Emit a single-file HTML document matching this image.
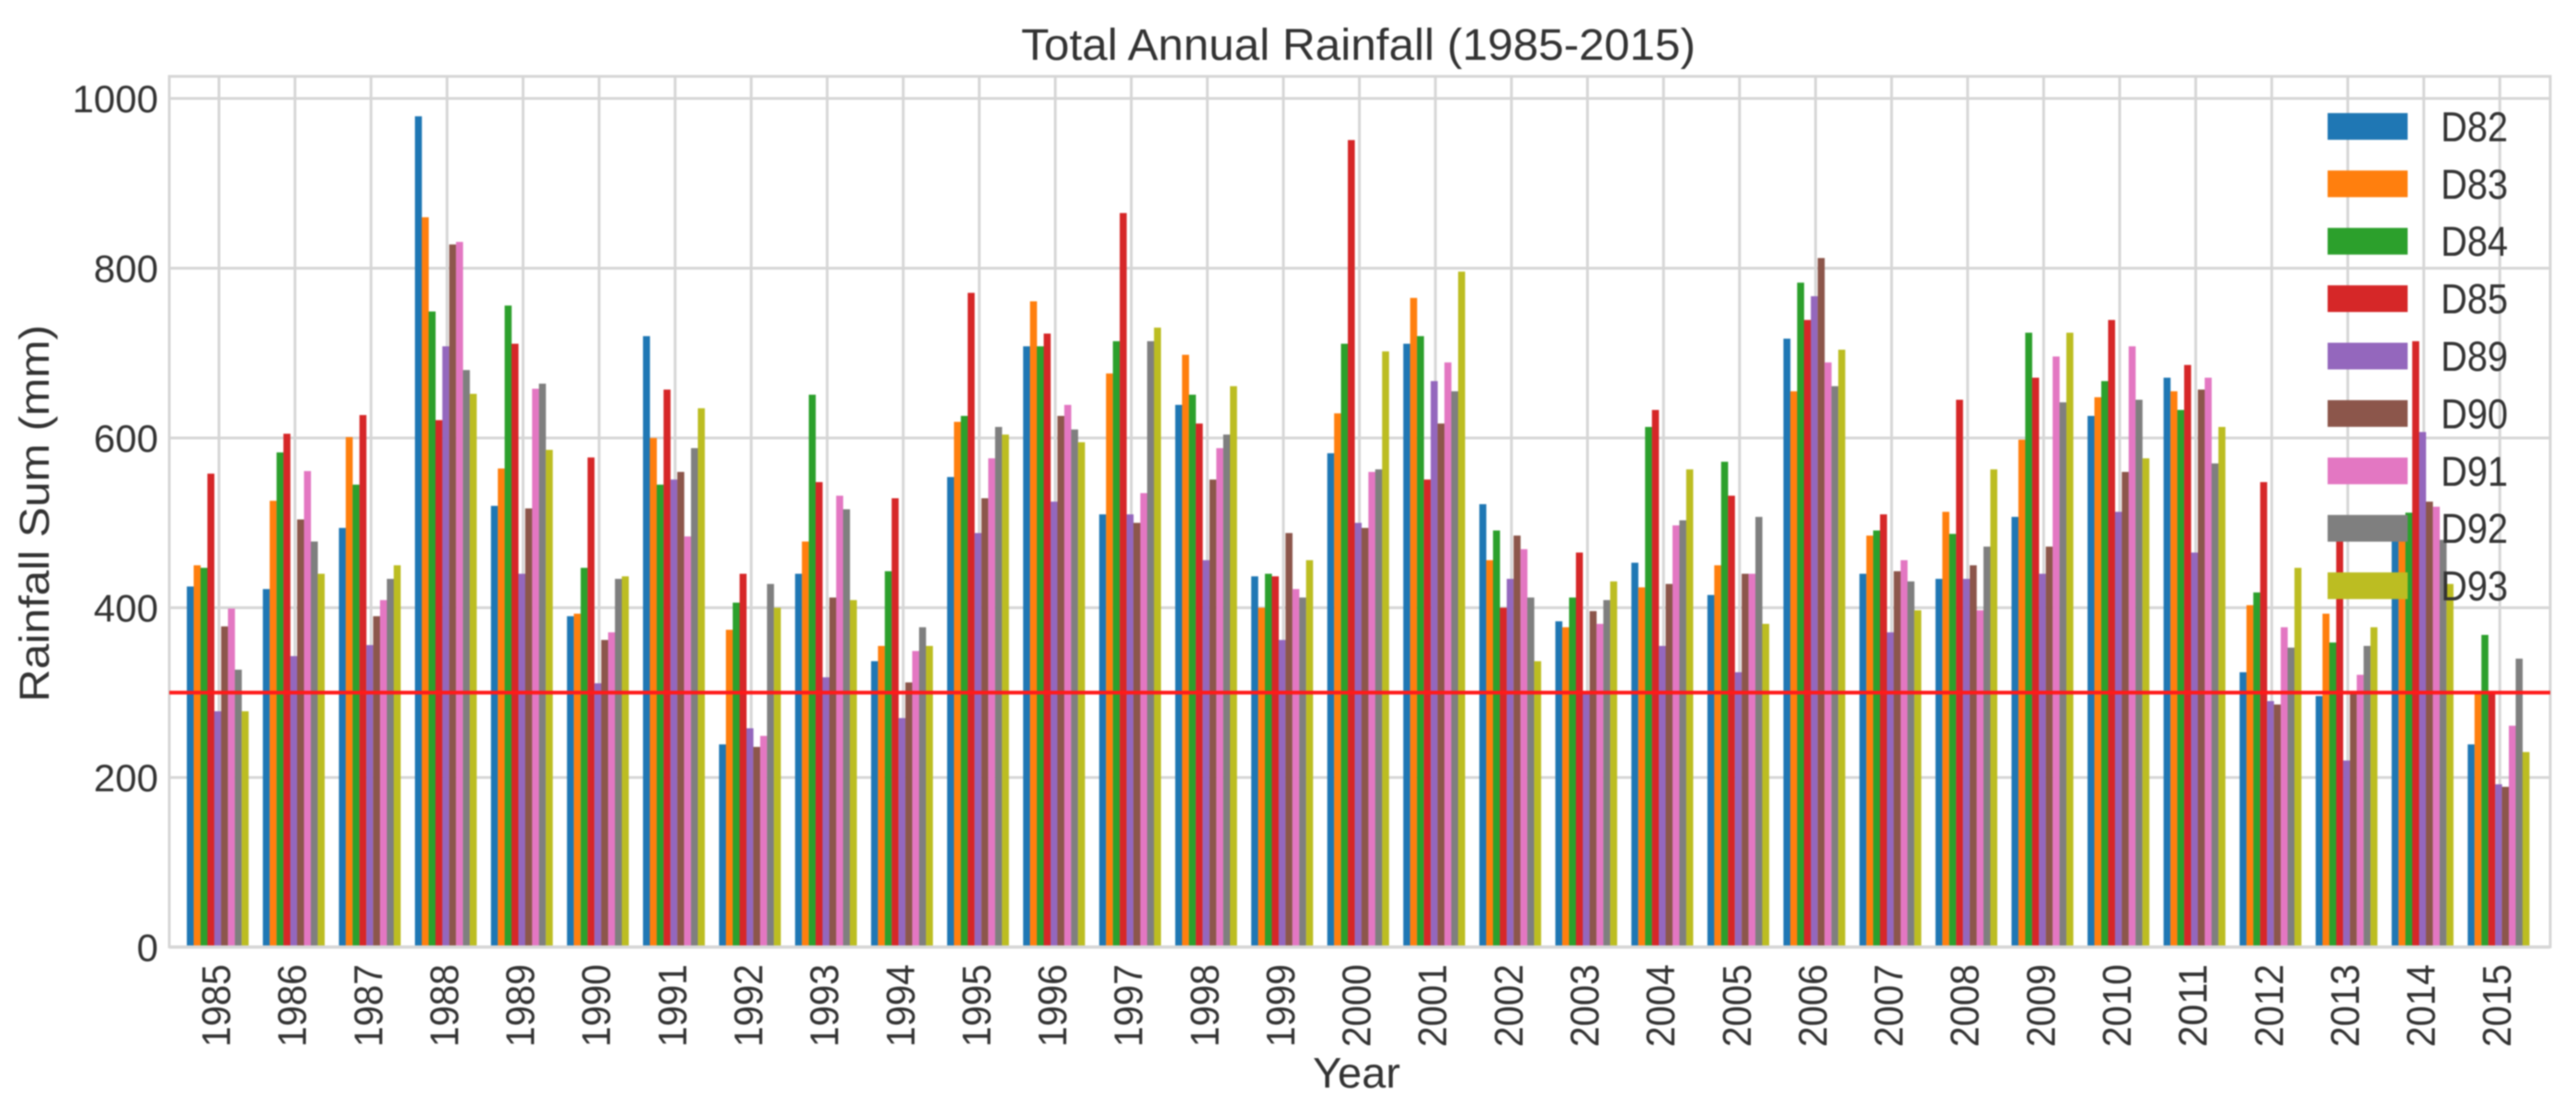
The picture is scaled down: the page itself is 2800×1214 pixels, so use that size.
<!DOCTYPE html>
<html lang="en">
<head>
<meta charset="utf-8">
<title>Total Annual Rainfall (1985-2015)</title>
<style>
  html, body { margin: 0; padding: 0; background: #fff; }
  body { width: 2800px; height: 1214px; overflow: hidden; }
  svg { display: block; filter: blur(0.8px); }
  text { font-family: "Liberation Sans", Arial, sans-serif; fill: #333; }
</style>
</head>
<body>
<svg id="chart" xmlns="http://www.w3.org/2000/svg" width="2800" height="1214" viewBox="0 0 2800 1214">
  <rect x="0" y="0" width="2800" height="1214" fill="#ffffff"/>
  <g id="grid"></g>
  <g id="bars"></g>
  <g id="spines"></g>
  <g id="threshold"></g>
  <g id="yticks"></g>
  <g id="xticks"></g>
  <g id="legend"></g>
  <text x="1110" y="65" font-size="48" textLength="733" lengthAdjust="spacingAndGlyphs">Total Annual Rainfall (1985-2015)</text>
  <text x="1427" y="1182" font-size="46" textLength="95" lengthAdjust="spacingAndGlyphs">Year</text>
  <text transform="translate(53,763) rotate(-90)" x="0" y="0" font-size="45" textLength="410" lengthAdjust="spacingAndGlyphs">Rainfall Sum (mm)</text>
</svg>
<script>
const years = [1985,1986,1987,1988,1989,1990,1991,1992,1993,1994,1995,1996,1997,1998,1999,2000,2001,2002,2003,2004,2005,2006,2007,2008,2009,2010,2011,2012,2013,2014,2015];
const seriesNames = ['D82','D83','D84','D85','D89','D90','D91','D92','D93'];
const d82 = [425,422,494,979,520,390,720,239,440,337,554,708,510,639,437,582,711,522,384,453,415,717,440,434,507,626,671,324,296,490,239];
const d83 = [450,526,601,860,564,393,600,374,478,355,619,761,676,698,400,629,765,456,377,424,450,655,485,513,598,648,655,403,393,485,299];
const d84 = [447,583,545,749,756,447,545,406,651,443,626,708,714,651,440,711,720,491,412,613,572,783,491,487,724,667,633,418,359,512,368];
const d85 = [558,605,627,621,711,577,657,440,548,529,771,723,865,617,437,951,551,400,465,633,532,739,510,645,671,739,686,548,490,714,299];
const d89 = [278,343,356,708,440,311,551,258,318,270,488,525,510,456,362,500,667,434,300,355,324,767,371,434,440,513,465,290,220,607,192];
const d90 = [378,504,390,828,517,362,560,236,412,312,529,626,500,551,488,494,617,485,396,428,440,812,443,450,472,560,657,286,299,525,189];
const d91 = [399,561,409,831,658,371,484,249,532,349,576,639,535,588,422,560,689,469,381,497,440,689,456,397,696,708,671,377,321,519,261];
const d92 = [327,478,434,680,664,434,588,428,516,377,613,610,714,604,412,563,655,412,409,503,507,661,431,472,642,645,570,353,355,480,340];
const d93 = [278,440,450,652,586,437,635,400,409,355,604,595,730,661,456,702,796,337,431,563,381,704,397,563,724,576,613,447,377,428,230];
const yTickLabels = [0,200,400,600,800,1000];
const thresholdValue = 300;

const seriesValues = [d82,d83,d84,d85,d89,d90,d91,d92,d93];
const palette = ['#1f77b4','#ff7f0e','#2ca02c','#d62728','#9467bd','#8c564b','#e377c2','#7f7f7f','#bcbd22'];

const NS = 'http://www.w3.org/2000/svg';
const plot = { left: 184, right: 2772, top: 83, bottom: 1029 };
const yScale = v => 1029.5 - v * 0.9225;
const yearStep = 82.64;
const tickX = i => 238 + yearStep * i;
const groupCenter = i => 236.6 + yearStep * i;
const barWidth = 7.45;
const barX = (i, s) => groupCenter(i) + (s - seriesNames.length / 2) * barWidth;

function make(tag, attrs, parent) {
  const el = document.createElementNS(NS, tag);
  for (const k in attrs) el.setAttribute(k, attrs[k]);
  parent.appendChild(el);
  return el;
}

const gridG = document.getElementById('grid');
const barsG = document.getElementById('bars');
const spinesG = document.getElementById('spines');
const thresholdG = document.getElementById('threshold');
const yG = document.getElementById('yticks');
const xG = document.getElementById('xticks');
const legendG = document.getElementById('legend');
const gridStyle = { stroke: '#d6d6d6', 'stroke-width': 3 };

yTickLabels.forEach(t => {
  const line = make('line', Object.assign({ x1: plot.left, x2: plot.right, y1: yScale(t), y2: yScale(t) }, gridStyle), gridG);
  
  
  const label = make('text', { x: 172, y: yScale(t) + 15, 'font-size': 42, 'text-anchor': 'end' }, yG);
  
  
  label.textContent = t;
});

years.forEach((yr, i) => {
  const line = make('line', Object.assign({ x1: tickX(i), x2: tickX(i), y1: plot.top, y2: plot.bottom }, gridStyle), gridG);
  
  
  const label = make('text', { transform: 'translate(' + (tickX(i) + 12) + ',1138) rotate(-90)', x: 0, y: 0, 'font-size': 44, textLength: 90, lengthAdjust: 'spacingAndGlyphs' }, xG);
  
  
  label.textContent = yr;
});

seriesValues.forEach((vals, s) => {
  vals.forEach((v, i) => {
    const bar = make('rect', { x: barX(i, s), y: yScale(v), width: barWidth + 0.15, height: yScale(0) - yScale(v), fill: palette[s] }, barsG);
    
    
  });
});

const frame = make('rect', { x: plot.left, y: plot.top, width: plot.right - plot.left, height: plot.bottom - plot.top, fill: 'none', stroke: '#d6d6d6', 'stroke-width': 3 }, spinesG);



const redLine = make('line', { x1: plot.left, x2: plot.right, y1: yScale(thresholdValue), y2: yScale(thresholdValue), stroke: '#ff1a1a', 'stroke-width': 4 }, thresholdG);



seriesNames.forEach((name, s) => {
  const cy = 137.4 + 62.4 * s;
  const patch = make('rect', { x: 2530, y: cy - 14.5, width: 87, height: 29, fill: palette[s] }, legendG);
  
  
  const label = make('text', { x: 2653, y: cy + 16, 'font-size': 45, textLength: 73, lengthAdjust: 'spacingAndGlyphs' }, legendG);
  
  
  label.textContent = name;
});
</script>
</body>
</html>
